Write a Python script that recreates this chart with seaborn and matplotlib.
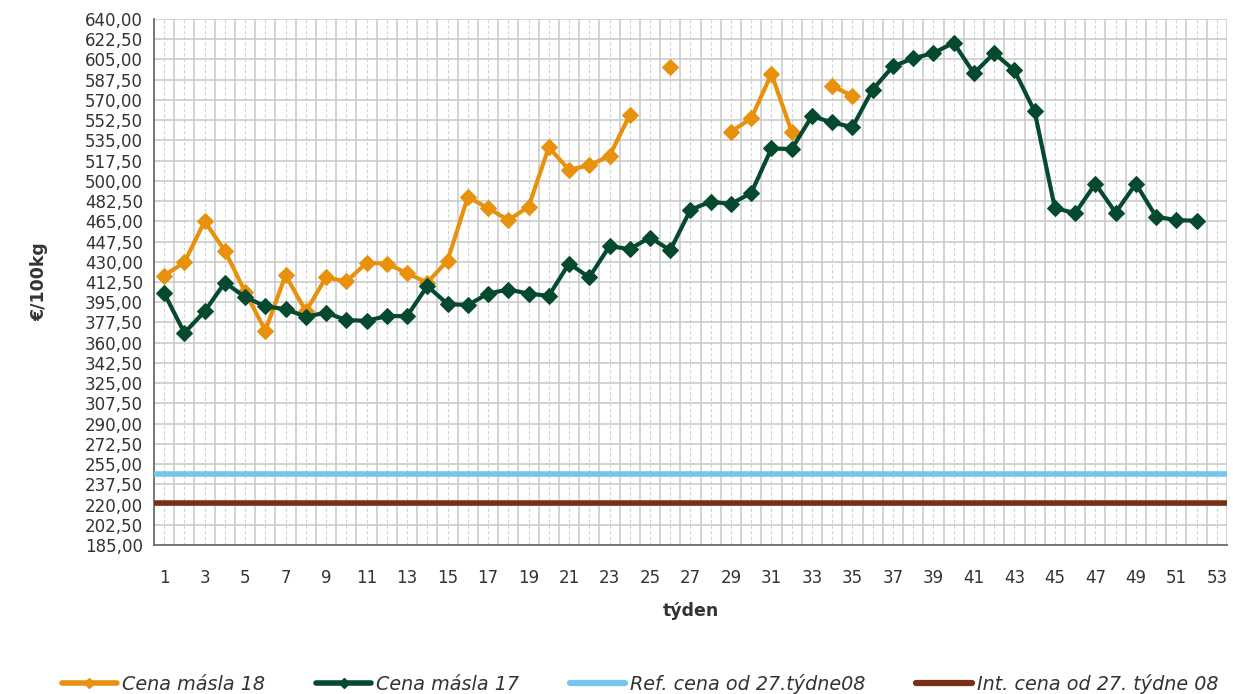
import numpy as np
import pandas as pd
import matplotlib
matplotlib.use('Agg')
import matplotlib.pyplot as plt
from matplotlib.lines import Line2D
import seaborn as sns

# week numbers and prices (€/100kg)
weeks = list(range(1, 53))
butter_18 = [418, 429.5, 465, 439.5, 404, 370.5, 418.5, 387, 416.5, 413,
             429, 428.5, 420, 412, 431, 486, 476.5, 466, 477.5, 529,
             509.5, 513.5, 521.5, 557, np.nan, 598.5, np.nan, np.nan, 542.5, 554,
             592.5, 542.5, np.nan, 582, 573.5] + [np.nan] * 17
butter_17 = [403, 368.5, 387, 412, 399.5, 391.5, 389, 382.5, 386, 379.5,
             379, 383, 383, 409, 393.5, 392.5, 402.5, 406, 402.5, 400.5,
             428.5, 416.5, 443.5, 441, 451, 440, 475, 482, 480, 489.5,
             528, 527.5, 556, 550.5, 546.5, 579, 599, 606, 610.5, 619.5,
             593, 610.5, 595.5, 560, 476.5, 472, 497.5, 472.5, 497.5, 469,
             466, 465.5]
ref_price = 246.39
int_price = 221.75
week_axis = list(range(1, 54))

c_18 = '#E8910C'
c_17 = '#054A2F'
c_ref = '#74C6EC'
c_int = '#7A3012'

labels = ['Cena másla 18', 'Cena másla 17', 'Ref. cena od 27.týdne08', 'Int. cena od 27. týdne 08']

sns.set_style('white')
plt.rcParams['font.family'] = ['DejaVu Sans']

fig = plt.figure(figsize=(12.33, 6.94), dpi=100)
ax = fig.add_axes([0.1249, 0.2147, 0.8702, 0.7579])

# orange series has gaps -> give each contiguous run its own unit
df18 = pd.DataFrame({'week': weeks, 'price': butter_18})
df18['seg'] = df18['price'].isna().cumsum()
df18 = df18.dropna()
df17 = pd.DataFrame({'week': weeks, 'price': butter_17})
dfref = pd.DataFrame({'week': [0.5, 53.5], 'price': [ref_price, ref_price]})
dfint = pd.DataFrame({'week': [0.5, 53.5], 'price': [int_price, int_price]})

sns.lineplot(data=df18, x='week', y='price', units='seg', estimator=None, color=c_18,
             linewidth=3, marker='D', markersize=8.5, markeredgecolor=c_18, ax=ax, zorder=3)
sns.lineplot(data=df17, x='week', y='price', color=c_17, linewidth=3, marker='D',
             markersize=8.5, markeredgecolor=c_17, ax=ax, zorder=4)
sns.lineplot(data=dfref, x='week', y='price', color=c_ref, linewidth=4, ax=ax, zorder=3)
sns.lineplot(data=dfint, x='week', y='price', color=c_int, linewidth=4, ax=ax, zorder=3)

ax.set_xlim(0.5, 53.5)
ax.set_ylim(185, 640)
yt = np.arange(185, 640.1, 17.5)
ax.set_yticks(yt)
ax.set_yticklabels([f'{v:.2f}'.replace('.', ',') for v in yt], fontsize=12, color='#333333')

ax.set_xticks(np.arange(0.5, 54, 1))
ax.set_xticklabels([])
ax.set_xticks(week_axis, minor=True)
ax.set_xticklabels([str(w) if w % 2 == 1 else '' for w in week_axis], minor=True,
                   fontsize=12, color='#333333')

ax.tick_params(axis='x', which='major', direction='out', length=6, width=1, color='#404040')
ax.tick_params(axis='x', which='minor', length=0, pad=17)
ax.tick_params(axis='y', which='major', direction='out', length=6, width=1, color='#404040', pad=2)

ax.grid(True, which='major', axis='both', color='#C8C8C8', linewidth=1.1, zorder=0)
ax.grid(True, which='minor', axis='x', color='#D2D2D2', linewidth=0.8, linestyle=(0, (3, 2)), zorder=0)
ax.set_axisbelow(True)

for s in ['top', 'right']:
    ax.spines[s].set_visible(False)
for s in ['left', 'bottom']:
    ax.spines[s].set_color('#6E6E6E')
    ax.spines[s].set_linewidth(1.3)

ax.set_xlabel('týden', fontsize=12.5, fontweight='bold', labelpad=11, color='#333333')
ax.set_ylabel('€/100kg', fontsize=12.5, fontweight='bold', labelpad=26, color='#333333')

handles = [
    Line2D([], [], color=c_18, linewidth=4, marker='D', markersize=5),
    Line2D([], [], color=c_17, linewidth=4, marker='D', markersize=5),
    Line2D([], [], color=c_ref, linewidth=4.5),
    Line2D([], [], color=c_int, linewidth=4.5),
]
leg = fig.legend(handles, labels, loc='center', bbox_to_anchor=(0.519, 0.015), ncol=4,
                 frameon=False, prop={'style': 'italic', 'size': 13.8},
                 handlelength=2.9, handletextpad=0.25, columnspacing=2.65)
for t in leg.get_texts():
    t.set_color('#333333')

fig.savefig('out.png', dpi=100)
